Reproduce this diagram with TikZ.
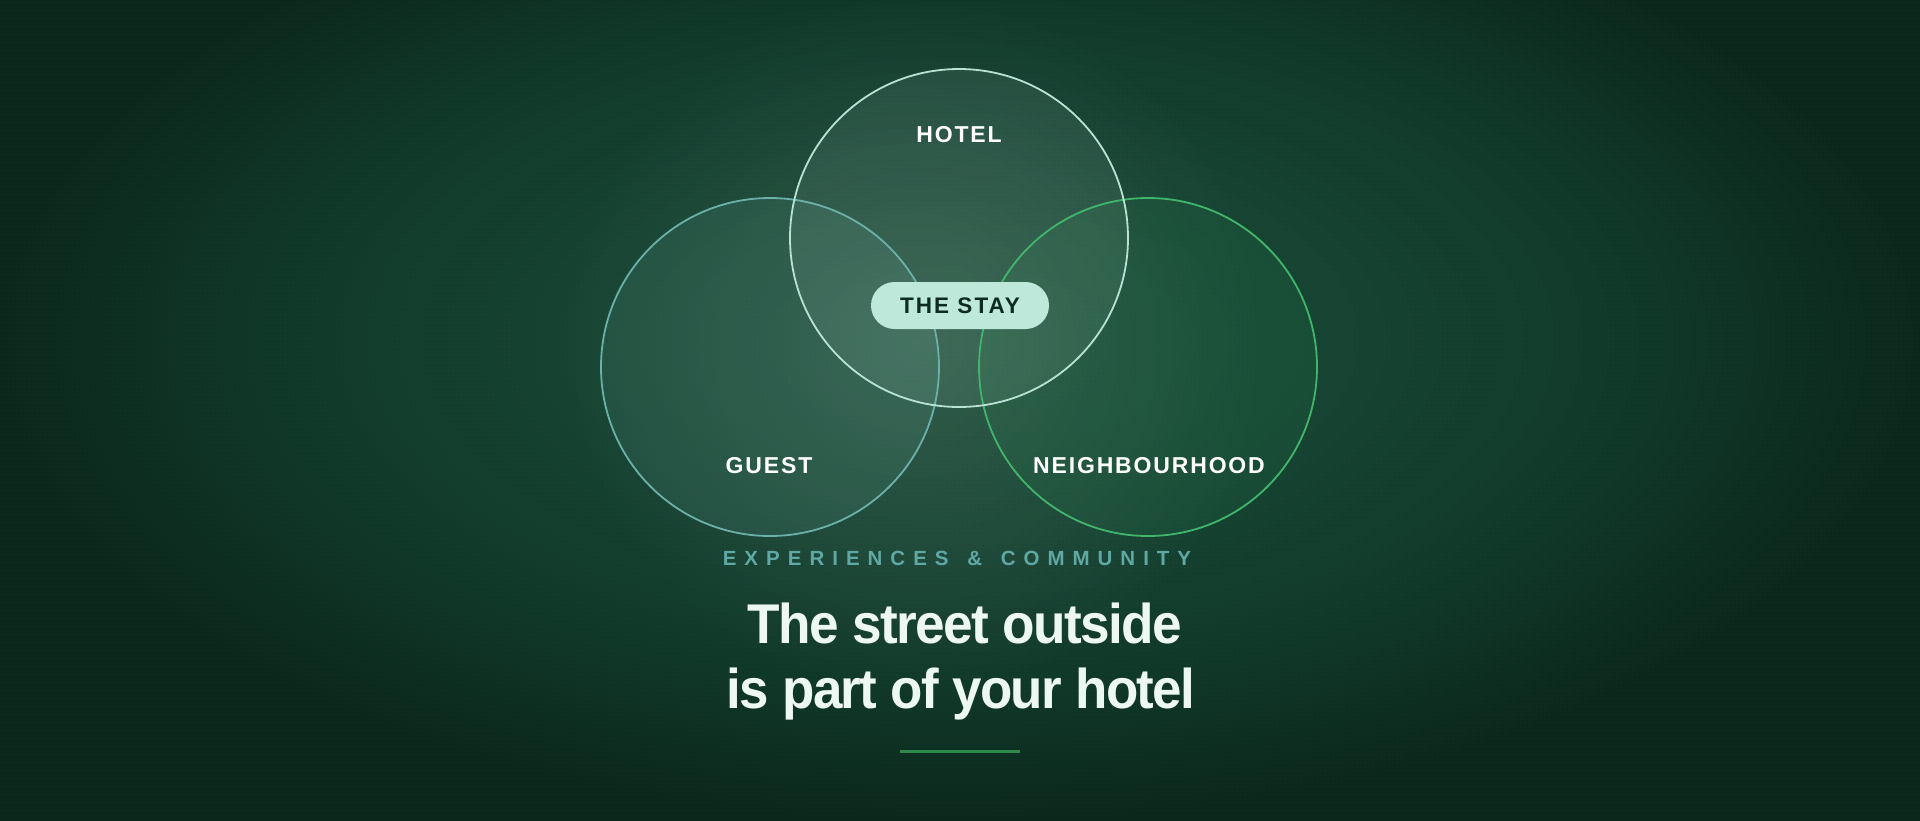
\documentclass[tikz,border=0pt]{standalone}
\usepackage{fontspec}
\usepackage{graphicx}
\usetikzlibrary{fadings,patterns.meta}
\setmainfont{Liberation Sans}
\newfontfamily\titlefont{Liberation Sans}[LetterSpace=-3]
\newfontfamily\labelfont{Liberation Sans}[LetterSpace=8]
\newfontfamily\stayfont{Liberation Sans}[LetterSpace=9]
\newfontfamily\kickerfont{Liberation Sans}[LetterSpace=39]
\definecolor{bgdark}{HTML}{0A271B}
\definecolor{bgmid}{HTML}{103829}
\definecolor{bgmid2}{HTML}{164332}
\definecolor{bgglow}{HTML}{1B4C38}
\definecolor{hotelline}{HTML}{B9E2D5}
\definecolor{hotelfill}{HTML}{D2F0E6}
\definecolor{guestline}{HTML}{6CB0AA}
\definecolor{guestfill}{HTML}{7CC6BC}
\definecolor{neighline}{HTML}{42B56C}
\definecolor{neighfill}{HTML}{2AA05A}
\definecolor{pillfill}{HTML}{BDE8DA}
\definecolor{pilltext}{HTML}{0E2B20}
\definecolor{kicker}{HTML}{5FA8A4}
\definecolor{titletext}{HTML}{EEF8F2}
\definecolor{rulegreen}{HTML}{2B8A4C}
\pgfdeclareradialshading{bgshade}{\pgfpoint{0bp}{0bp}}{color(0bp)=(bgglow); color(10bp)=(bgmid2); color(18bp)=(bgmid); color(25bp)=(bgdark); color(50bp)=(bgdark)}
\tikzfading[name=glowfade, inner color=transparent!0, outer color=transparent!100]
\tikzdeclarepattern{name=dotgrid, type=uncolored, bounding box={(0pt,0pt) and (4pt,4pt)}, tile size={(4pt,4pt)}, code={\fill (1pt,1pt) rectangle (3pt,3pt);}}
\tikzset{
  setcircle/.style={line width=1.8pt},
  setlabel/.style={inner sep=0pt, anchor=base, text=white, font=\labelfont\bfseries\fontsize{23}{26}\selectfont},
  pill/.style={fill=pillfill, rounded corners=23.5pt, minimum width=178pt, minimum height=47pt, inner sep=0pt, text=pilltext, font=\stayfont\bfseries\fontsize{22.5}{26}\selectfont},
  kickertext/.style={inner sep=0pt, anchor=base, text=kicker, font=\kickerfont\bfseries\fontsize{20.5}{24}\selectfont},
  titleline/.style={inner sep=0pt, anchor=base, text=titletext, font=\titlefont\bfseries\fontsize{56}{64}\selectfont},
}
\begin{document}
\begin{tikzpicture}[x=1pt,y=-1pt]
  \useasboundingbox (0,0) rectangle (1920,820);
  % background
  \fill[bgdark] (-10,-10) rectangle (1930,830);
  \begin{scope}
    \clip (-10,-10) rectangle (1930,830);
    \shade[shading=bgshade] (0,-140) rectangle (1920,820);
    \fill[pattern=dotgrid, pattern color=white, fill opacity=0.025] (-10,-10) rectangle (1930,830);
  \end{scope}
  % circle fills
  \coordinate (hc) at (959,238);
  \coordinate (gc) at (770,367);
  \coordinate (nc) at (1148,367);
  \fill[neighfill, fill opacity=0.10] (nc) circle [radius=169];
  \fill[guestfill, fill opacity=0.10] (gc) circle [radius=169];
  \fill[hotelfill, fill opacity=0.08] (hc) circle [radius=169];
  \fill[white, fill opacity=0.10, path fading=glowfade] (915,345) circle [radius=360];
  % circle strokes
  \draw[setcircle, neighline] (nc) circle [radius=169];
  \draw[setcircle, guestline] (gc) circle [radius=169];
  \draw[setcircle, hotelline] (hc) circle [radius=169];
  % labels
  \node[setlabel] (hotel) at (959,142) {HOTEL};
  \node[setlabel] (guest) at (769,473) {GUEST};
  \node[setlabel] (neigh) at (1149,473) {NEIGHBOURHOOD};
  \node[pill] (stay) at (960,305.5) {\raisebox{-1pt}{THE STAY}};
  % texts below
  \node[kickertext] (kick) at (957,565) {EXPERIENCES\hspace{5pt} \&\hspace{5pt} COMMUNITY};
  \node[titleline] (t1) at (965,643) {\scalebox{0.95}[1]{The street outside}};
  \node[titleline] (t2) at (961,708) {\scalebox{0.945}[1]{is part of your hotel}};
  \coordinate (rl) at (900,751);
  \coordinate (rr) at (1020,751);
  \draw[rulegreen, line width=3pt] (rl) -- (rr);
\end{tikzpicture}
\end{document}
